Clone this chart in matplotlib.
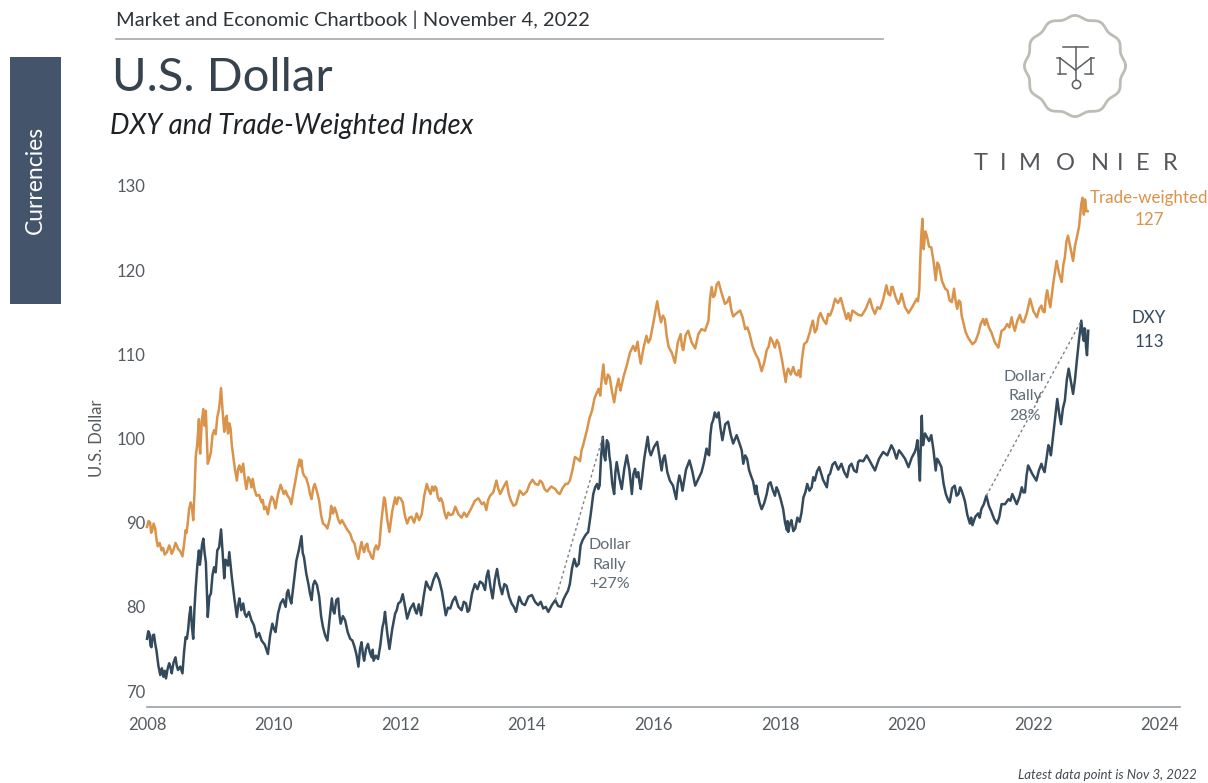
import numpy as np
import matplotlib
matplotlib.use("Agg")
import matplotlib.pyplot as plt
from matplotlib.patches import Rectangle

plt.rcParams['font.family'] = ['Lato', 'DejaVu Sans']

ORANGE = '#D9934A'
NAVY = '#33495C'
GREY = '#5F6B76'

# values
tw_dates = [2008.00, 2008.025, 2008.05, 2008.065, 2008.08, 2008.105, 2008.13, 2008.15, 2008.17, 2008.20,
            2008.23, 2008.255, 2008.28, 2008.315, 2008.35, 2008.37, 2008.39, 2008.42, 2008.45, 2008.47,
            2008.49, 2008.525, 2008.56, 2008.585, 2008.61, 2008.625, 2008.64, 2008.665, 2008.69, 2008.71,
            2008.73, 2008.75, 2008.77, 2008.795, 2008.82, 2008.83, 2008.84, 2008.865, 2008.89, 2008.91,
            2008.93, 2008.945, 2008.96, 2008.985, 2009.01, 2009.035, 2009.06, 2009.085, 2009.11, 2009.14,
            2009.17, 2009.195, 2009.22, 2009.24, 2009.26, 2009.27, 2009.28, 2009.30, 2009.32, 2009.34,
            2009.36, 2009.39, 2009.42, 2009.44, 2009.46, 2009.49, 2009.52, 2009.545, 2009.57, 2009.60,
            2009.63, 2009.65, 2009.67, 2009.70, 2009.73, 2009.77, 2009.81, 2009.83, 2009.85, 2009.88,
            2009.91, 2009.94, 2009.97, 2010.00, 2010.03, 2010.07, 2010.11, 2010.135, 2010.16, 2010.19,
            2010.22, 2010.25, 2010.28, 2010.315, 2010.35, 2010.38, 2010.41, 2010.425, 2010.44, 2010.46,
            2010.48, 2010.515, 2010.55, 2010.575, 2010.60, 2010.625, 2010.65, 2010.685, 2010.72, 2010.75,
            2010.78, 2010.815, 2010.85, 2010.89, 2010.91, 2010.925, 2010.94, 2010.965, 2010.99, 2011.02,
            2011.05, 2011.08, 2011.11, 2011.16, 2011.21, 2011.245, 2011.28, 2011.31, 2011.34, 2011.365,
            2011.39, 2011.41, 2011.43, 2011.455, 2011.48, 2011.50, 2011.52, 2011.545, 2011.57, 2011.595,
            2011.62, 2011.645, 2011.67, 2011.70, 2011.73, 2011.745, 2011.76, 2011.795, 2011.83, 2011.875,
            2011.92, 2011.945, 2011.97, 2012.005, 2012.04, 2012.075, 2012.11, 2012.145, 2012.18, 2012.22,
            2012.26, 2012.30, 2012.34, 2012.38, 2012.42, 2012.45, 2012.48, 2012.505, 2012.53, 2012.55,
            2012.57, 2012.595, 2012.62, 2012.645, 2012.67, 2012.70, 2012.73, 2012.76, 2012.79, 2012.83,
            2012.87, 2012.92, 2012.97, 2013.01, 2013.05, 2013.115, 2013.18, 2013.235, 2013.29, 2013.325,
            2013.36, 2013.39, 2013.42, 2013.47, 2013.52, 2013.55, 2013.58, 2013.63, 2013.68, 2013.715,
            2013.75, 2013.79, 2013.83, 2013.86, 2013.89, 2013.945, 2014.00, 2014.045, 2014.09, 2014.135,
            2014.18, 2014.21, 2014.24, 2014.28, 2014.32, 2014.385, 2014.45, 2014.485, 2014.52, 2014.565,
            2014.61, 2014.645, 2014.68, 2014.72, 2014.76, 2014.80, 2014.84, 2014.865, 2014.89, 2014.92,
            2014.95, 2014.99, 2015.03, 2015.07, 2015.11, 2015.135, 2015.16, 2015.185, 2015.21, 2015.23,
            2015.25, 2015.28, 2015.31, 2015.345, 2015.38, 2015.415, 2015.45, 2015.465, 2015.48, 2015.53,
            2015.58, 2015.63, 2015.68, 2015.715, 2015.75, 2015.775, 2015.80, 2015.845, 2015.89, 2015.92,
            2015.95, 2016.005, 2016.06, 2016.09, 2016.12, 2016.15, 2016.18, 2016.21, 2016.24, 2016.29,
            2016.34, 2016.385, 2016.43, 2016.45, 2016.47, 2016.51, 2016.55, 2016.605, 2016.66, 2016.71,
            2016.76, 2016.815, 2016.87, 2016.895, 2016.92, 2016.945, 2016.97, 2017.00, 2017.03, 2017.08,
            2017.13, 2017.165, 2017.20, 2017.23, 2017.26, 2017.315, 2017.37, 2017.41, 2017.45, 2017.485,
            2017.52, 2017.565, 2017.61, 2017.66, 2017.71, 2017.75, 2017.79, 2017.82, 2017.85, 2017.885,
            2017.92, 2017.95, 2017.98, 2018.035, 2018.09, 2018.11, 2018.13, 2018.17, 2018.21, 2018.24,
            2018.27, 2018.295, 2018.32, 2018.35, 2018.38, 2018.425, 2018.47, 2018.495, 2018.52, 2018.55,
            2018.58, 2018.61, 2018.64, 2018.685, 2018.73, 2018.76, 2018.79, 2018.83, 2018.87, 2018.915,
            2018.96, 2019.005, 2019.05, 2019.08, 2019.11, 2019.145, 2019.18, 2019.235, 2019.29, 2019.355,
            2019.42, 2019.46, 2019.50, 2019.54, 2019.58, 2019.63, 2019.68, 2019.71, 2019.74, 2019.76,
            2019.78, 2019.825, 2019.87, 2019.895, 2019.92, 2019.975, 2020.03, 2020.095, 2020.16, 2020.18,
            2020.20, 2020.215, 2020.23, 2020.24, 2020.25, 2020.26, 2020.27, 2020.295, 2020.32, 2020.355,
            2020.39, 2020.425, 2020.46, 2020.485, 2020.51, 2020.56, 2020.61, 2020.645, 2020.68, 2020.715,
            2020.75, 2020.775, 2020.80, 2020.825, 2020.85, 2020.87, 2020.89, 2020.93, 2020.97, 2021.005,
            2021.04, 2021.085, 2021.13, 2021.17, 2021.21, 2021.235, 2021.26, 2021.30, 2021.34, 2021.395,
            2021.45, 2021.475, 2021.50, 2021.545, 2021.59, 2021.625, 2021.66, 2021.685, 2021.71, 2021.75,
            2021.79, 2021.82, 2021.85, 2021.90, 2021.95, 2022.005, 2022.06, 2022.095, 2022.13, 2022.155,
            2022.18, 2022.20, 2022.22, 2022.245, 2022.27, 2022.32, 2022.37, 2022.41, 2022.45, 2022.475,
            2022.50, 2022.525, 2022.55, 2022.59, 2022.63, 2022.66, 2022.69, 2022.725, 2022.76, 2022.78,
            2022.80, 2022.82, 2022.84, 2022.86]
tw_values = [89.5, 90.2, 90.0, 88.8, 89.0, 89.9, 89.3, 88.0, 87.2, 87.6,
             86.7, 87.0, 86.2, 86.5, 87.3, 86.9, 86.3, 86.8, 87.6, 87.3,
             86.9, 86.6, 86.0, 87.4, 89.1, 88.8, 89.7, 91.6, 92.4, 91.8,
             90.3, 93.5, 97.8, 99.5, 102.3, 99.0, 98.2, 102.0, 103.5, 101.5,
             103.3, 100.0, 97.0, 97.6, 98.4, 100.4, 101.0, 100.5, 102.5, 103.6,
             106.0, 103.2, 100.8, 102.4, 102.7, 101.2, 100.6, 101.8, 101.2, 99.2,
             98.0, 96.3, 95.0, 96.4, 96.8, 96.0, 97.0, 95.2, 94.0, 95.4,
             95.0, 94.2, 95.2, 93.9, 93.2, 93.3, 92.4, 92.7, 91.6, 91.9,
             91.0, 92.3, 93.1, 92.7, 91.7, 93.4, 94.5, 94.0, 93.4, 93.8,
             93.2, 92.9, 92.2, 93.8, 95.2, 96.6, 97.5, 96.7, 97.4, 96.0,
             95.6, 95.3, 94.4, 93.4, 92.8, 94.1, 94.6, 93.7, 92.6, 90.9,
             89.9, 89.7, 89.3, 90.6, 92.0, 91.2, 91.1, 91.8, 91.3, 90.4,
             89.9, 90.3, 89.9, 89.2, 88.7, 87.9, 87.5, 86.3, 85.7, 86.9,
             87.7, 86.9, 86.5, 87.3, 87.5, 86.6, 86.5, 85.9, 85.7, 86.9,
             87.3, 86.8, 87.3, 90.0, 92.0, 93.0, 92.8, 90.4, 88.9, 91.4,
             93.0, 92.2, 93.0, 92.9, 92.4, 90.8, 89.9, 90.6, 90.7, 90.0,
             91.1, 90.3, 91.0, 93.2, 94.6, 93.9, 93.4, 94.3, 93.8, 94.3,
             94.1, 93.0, 92.6, 92.9, 92.4, 91.2, 90.5, 91.2, 90.9, 91.0,
             91.9, 91.0, 90.6, 91.2, 90.7, 91.6, 92.6, 92.9, 92.2, 92.4,
             91.5, 92.7, 93.2, 93.6, 95.0, 94.0, 93.4, 94.2, 94.9, 93.4,
             92.6, 92.0, 92.2, 93.0, 93.8, 93.3, 93.7, 94.6, 95.1, 94.6,
             94.5, 95.0, 94.8, 94.0, 93.7, 94.3, 94.0, 93.6, 93.4, 94.1,
             94.6, 94.6, 95.0, 96.2, 97.8, 97.6, 97.3, 98.6, 99.2, 100.1,
             101.0, 102.4, 103.3, 104.8, 105.5, 105.9, 105.1, 107.2, 108.8, 107.0,
             106.5, 107.6, 107.3, 105.6, 104.3, 106.0, 107.1, 106.2, 105.7, 107.4,
             108.7, 110.2, 111.0, 110.4, 111.5, 110.0, 108.9, 110.8, 112.2, 111.4,
             111.8, 114.0, 116.3, 114.9, 113.8, 114.6, 114.2, 112.2, 110.9, 110.2,
             109.0, 111.4, 112.4, 111.0, 110.5, 112.3, 112.8, 111.4, 110.7, 112.4,
             113.0, 112.8, 114.0, 116.6, 118.0, 116.8, 117.0, 118.3, 118.6, 117.2,
             116.0, 116.2, 116.8, 115.3, 114.5, 114.9, 115.2, 114.4, 113.0, 113.2,
             112.4, 111.0, 110.1, 109.4, 108.0, 109.0, 110.5, 110.9, 112.0, 111.5,
             110.8, 111.7, 111.3, 109.2, 106.7, 107.9, 108.3, 107.6, 108.5, 107.7,
             107.5, 108.1, 107.3, 109.6, 111.2, 111.5, 112.6, 113.4, 114.0, 112.6,
             113.0, 114.4, 114.9, 114.1, 113.6, 114.8, 114.6, 115.4, 116.6, 116.1,
             116.7, 115.4, 114.2, 114.9, 114.0, 115.2, 115.0, 114.7, 114.6, 115.4,
             116.6, 115.5, 114.8, 115.6, 115.4, 116.5, 118.2, 117.2, 117.0, 118.0,
             118.0, 116.8, 116.0, 116.4, 117.2, 115.6, 114.9, 115.7, 116.6, 116.3,
             117.6, 121.0, 123.9, 125.0, 126.1, 123.4, 122.5, 124.6, 124.1, 122.8,
             122.7, 121.1, 118.8, 120.9, 120.6, 118.7, 117.8, 117.6, 116.4, 116.2,
             117.8, 116.3, 115.4, 116.4, 116.2, 114.6, 114.0, 112.7, 112.0, 111.6,
             111.2, 111.5, 112.4, 113.6, 114.2, 113.5, 114.2, 113.2, 112.6, 111.4,
             110.8, 111.8, 112.8, 113.0, 113.6, 113.2, 114.4, 113.4, 112.8, 114.0,
             114.7, 113.9, 113.8, 114.9, 116.6, 115.1, 114.4, 115.4, 115.8, 115.1,
             115.0, 116.8, 117.6, 116.5, 115.6, 118.6, 121.1, 119.6, 118.6, 120.6,
             121.5, 123.4, 124.1, 122.6, 121.1, 122.9, 123.9, 125.2, 127.9, 128.6,
             126.6, 128.4, 127.0, 127.0]

dxy_dates = [2008.00, 2008.02, 2008.04, 2008.055, 2008.07, 2008.09, 2008.11, 2008.13, 2008.15, 2008.18,
             2008.21, 2008.235, 2008.26, 2008.28, 2008.30, 2008.325, 2008.35, 2008.37, 2008.39, 2008.42,
             2008.45, 2008.47, 2008.49, 2008.525, 2008.56, 2008.585, 2008.61, 2008.63, 2008.65, 2008.67,
             2008.69, 2008.71, 2008.73, 2008.75, 2008.77, 2008.795, 2008.82, 2008.835, 2008.85, 2008.87,
             2008.89, 2008.91, 2008.93, 2008.945, 2008.96, 2008.985, 2009.01, 2009.035, 2009.06, 2009.085,
             2009.11, 2009.14, 2009.17, 2009.195, 2009.22, 2009.24, 2009.26, 2009.28, 2009.30, 2009.32,
             2009.34, 2009.38, 2009.42, 2009.44, 2009.46, 2009.49, 2009.52, 2009.545, 2009.57, 2009.61,
             2009.65, 2009.69, 2009.73, 2009.77, 2009.81, 2009.86, 2009.91, 2009.945, 2009.98, 2010.005,
             2010.03, 2010.07, 2010.11, 2010.15, 2010.19, 2010.21, 2010.23, 2010.255, 2010.28, 2010.32,
             2010.36, 2010.40, 2010.44, 2010.46, 2010.48, 2010.515, 2010.55, 2010.575, 2010.60, 2010.625,
             2010.65, 2010.685, 2010.72, 2010.75, 2010.78, 2010.815, 2010.85, 2010.885, 2010.92, 2010.94,
             2010.96, 2010.99, 2011.02, 2011.04, 2011.06, 2011.095, 2011.13, 2011.17, 2011.21, 2011.245,
             2011.28, 2011.31, 2011.34, 2011.365, 2011.39, 2011.41, 2011.43, 2011.46, 2011.49, 2011.52,
             2011.55, 2011.565, 2011.58, 2011.615, 2011.65, 2011.685, 2011.72, 2011.74, 2011.76, 2011.795,
             2011.83, 2011.875, 2011.92, 2011.945, 2011.97, 2012.005, 2012.04, 2012.075, 2012.11, 2012.16,
             2012.21, 2012.235, 2012.26, 2012.295, 2012.33, 2012.37, 2012.41, 2012.445, 2012.48, 2012.525,
             2012.57, 2012.615, 2012.66, 2012.69, 2012.72, 2012.755, 2012.79, 2012.83, 2012.87, 2012.92,
             2012.97, 2013.005, 2013.04, 2013.065, 2013.09, 2013.135, 2013.18, 2013.22, 2013.26, 2013.30,
             2013.34, 2013.365, 2013.39, 2013.425, 2013.46, 2013.495, 2013.53, 2013.57, 2013.61, 2013.645,
             2013.68, 2013.72, 2013.76, 2013.795, 2013.83, 2013.855, 2013.88, 2013.925, 2013.97, 2014.025,
             2014.08, 2014.13, 2014.18, 2014.22, 2014.26, 2014.30, 2014.34, 2014.395, 2014.45, 2014.495,
             2014.54, 2014.58, 2014.62, 2014.65, 2014.68, 2014.715, 2014.75, 2014.785, 2014.82, 2014.85,
             2014.88, 2014.925, 2014.97, 2015.01, 2015.05, 2015.08, 2015.11, 2015.13, 2015.15, 2015.175,
             2015.20, 2015.22, 2015.24, 2015.265, 2015.29, 2015.305, 2015.32, 2015.35, 2015.38, 2015.40,
             2015.42, 2015.46, 2015.50, 2015.54, 2015.58, 2015.62, 2015.66, 2015.685, 2015.71, 2015.735,
             2015.76, 2015.78, 2015.80, 2015.855, 2015.91, 2015.935, 2015.96, 2016.01, 2016.06, 2016.095,
             2016.13, 2016.155, 2016.18, 2016.22, 2016.26, 2016.31, 2016.36, 2016.385, 2016.41, 2016.435,
             2016.46, 2016.515, 2016.57, 2016.615, 2016.66, 2016.71, 2016.76, 2016.80, 2016.84, 2016.86,
             2016.88, 2016.90, 2016.92, 2016.945, 2016.97, 2017.00, 2017.03, 2017.06, 2017.09, 2017.135,
             2017.18, 2017.22, 2017.26, 2017.315, 2017.37, 2017.395, 2017.42, 2017.45, 2017.48, 2017.51,
             2017.54, 2017.575, 2017.61, 2017.625, 2017.64, 2017.675, 2017.71, 2017.75, 2017.79, 2017.82,
             2017.85, 2017.885, 2017.92, 2017.945, 2017.97, 2018.01, 2018.05, 2018.08, 2018.11, 2018.12,
             2018.13, 2018.155, 2018.18, 2018.21, 2018.24, 2018.275, 2018.31, 2018.34, 2018.37, 2018.40,
             2018.43, 2018.465, 2018.50, 2018.525, 2018.55, 2018.585, 2018.62, 2018.68, 2018.74, 2018.765,
             2018.79, 2018.83, 2018.87, 2018.92, 2018.97, 2019.015, 2019.06, 2019.095, 2019.13, 2019.17,
             2019.21, 2019.235, 2019.26, 2019.315, 2019.37, 2019.435, 2019.50, 2019.565, 2019.63, 2019.695,
             2019.76, 2019.80, 2019.84, 2019.88, 2019.92, 2019.975, 2020.03, 2020.08, 2020.13, 2020.15,
             2020.17, 2020.19, 2020.21, 2020.225, 2020.24, 2020.25, 2020.26, 2020.29, 2020.32, 2020.355,
             2020.39, 2020.425, 2020.46, 2020.48, 2020.50, 2020.525, 2020.55, 2020.585, 2020.62, 2020.65,
             2020.68, 2020.72, 2020.76, 2020.79, 2020.82, 2020.845, 2020.87, 2020.895, 2020.92, 2020.96,
             2021.00, 2021.02, 2021.04, 2021.085, 2021.13, 2021.155, 2021.18, 2021.22, 2021.26, 2021.30,
             2021.34, 2021.385, 2021.43, 2021.465, 2021.50, 2021.555, 2021.61, 2021.64, 2021.67, 2021.705,
             2021.74, 2021.78, 2021.82, 2021.845, 2021.87, 2021.895, 2021.92, 2021.985, 2022.05, 2022.09,
             2022.13, 2022.155, 2022.18, 2022.21, 2022.24, 2022.26, 2022.28, 2022.33, 2022.38, 2022.41,
             2022.44, 2022.47, 2022.50, 2022.53, 2022.56, 2022.595, 2022.63, 2022.66, 2022.69, 2022.725,
             2022.76, 2022.78, 2022.80, 2022.81, 2022.82, 2022.835, 2022.85, 2022.87]
dxy_values = [76.2, 77.1, 76.8, 75.4, 75.2, 76.6, 76.7, 75.6, 74.8, 73.0,
              71.9, 72.7, 71.7, 72.4, 71.5, 72.6, 73.3, 72.9, 72.1, 73.4,
              74.0, 73.0, 72.5, 72.9, 72.1, 74.6, 76.4, 76.2, 77.3, 79.0,
              80.0, 77.6, 76.2, 79.8, 82.3, 84.9, 86.7, 85.0, 85.9, 87.4,
              88.1, 86.4, 85.3, 81.9, 78.8, 81.2, 81.6, 83.8, 84.7, 84.1,
              86.7, 87.1, 89.2, 86.4, 83.4, 85.6, 85.3, 84.9, 86.5, 85.0,
              83.5, 81.0, 78.8, 80.2, 81.0, 79.6, 80.4, 79.2, 78.8, 79.4,
              78.4, 77.8, 76.4, 76.9, 76.0, 75.5, 74.4, 76.6, 78.0, 77.4,
              77.0, 79.2, 80.4, 80.9, 80.0, 81.6, 82.0, 81.0, 80.4, 83.0,
              85.5, 86.8, 88.4, 86.4, 85.9, 84.0, 82.7, 81.6, 80.8, 82.6,
              83.1, 82.6, 81.2, 78.9, 77.6, 76.6, 76.0, 78.6, 81.0, 79.6,
              79.2, 80.8, 81.0, 79.0, 78.0, 78.9, 78.4, 77.0, 76.2, 76.0,
              75.2, 74.3, 72.9, 75.0, 75.8, 74.4, 73.6, 75.0, 75.6, 74.6,
              74.0, 74.9, 73.6, 74.2, 73.8, 75.4, 77.6, 78.2, 79.4, 76.9,
              75.0, 77.4, 79.2, 79.6, 80.4, 80.6, 81.5, 80.1, 78.6, 79.8,
              80.4, 79.6, 79.2, 80.3, 79.0, 81.2, 83.0, 82.4, 82.0, 83.2,
              84.0, 83.2, 81.8, 80.4, 79.0, 79.9, 79.8, 80.7, 81.2, 80.0,
              79.6, 80.6, 80.4, 79.4, 79.6, 81.6, 82.7, 82.1, 83.0, 82.8,
              82.0, 83.6, 84.3, 82.4, 81.0, 83.2, 84.5, 82.6, 81.5, 82.7,
              82.5, 81.2, 80.4, 80.0, 79.4, 80.3, 81.2, 80.4, 80.2, 81.2,
              81.4, 80.6, 80.2, 80.6, 79.8, 80.0, 79.4, 80.2, 80.8, 80.1,
              80.0, 80.9, 81.5, 81.9, 82.7, 84.6, 85.7, 84.8, 85.1, 87.3,
              87.9, 88.5, 88.9, 91.0, 93.4, 94.2, 94.6, 94.0, 94.4, 98.0,
              100.2, 98.0, 97.4, 99.8, 99.4, 97.9, 97.2, 94.6, 93.4, 96.0,
              97.2, 95.4, 94.0, 96.4, 98.0, 96.3, 93.4, 95.8, 96.4, 95.4,
              96.0, 94.8, 94.0, 97.6, 100.2, 98.6, 98.0, 99.0, 99.6, 97.9,
              96.2, 97.6, 98.0, 96.0, 95.0, 94.4, 92.8, 94.6, 95.6, 94.9,
              93.8, 96.3, 97.4, 96.1, 94.4, 95.2, 96.0, 97.2, 98.8, 98.2,
              98.0, 100.4, 101.7, 102.2, 103.1, 102.5, 103.1, 101.2, 99.8, 101.7,
              102.0, 100.5, 99.4, 100.4, 99.2, 98.6, 97.0, 98.0, 97.6, 96.3,
              95.6, 94.9, 93.4, 94.4, 93.6, 92.4, 91.6, 92.3, 93.4, 94.6,
              94.8, 93.9, 93.2, 94.2, 93.8, 92.8, 91.6, 90.0, 89.1, 90.2,
              88.9, 89.8, 90.3, 89.0, 89.3, 90.6, 90.1, 91.2, 93.0, 93.6,
              94.6, 93.8, 94.2, 95.4, 95.0, 96.1, 96.6, 95.1, 94.2, 95.6,
              95.8, 96.9, 97.2, 96.3, 97.0, 96.0, 95.4, 96.7, 97.0, 96.2,
              96.0, 97.2, 97.4, 97.3, 98.0, 97.1, 96.2, 97.6, 98.4, 98.0,
              99.2, 98.6, 97.6, 98.6, 98.2, 97.6, 96.6, 97.7, 98.4, 98.9,
              99.8, 97.8, 95.0, 99.4, 102.7, 100.2, 99.2, 100.6, 100.2, 99.7,
              100.4, 98.6, 96.2, 97.6, 97.4, 97.0, 96.6, 94.6, 93.4, 92.8,
              92.4, 94.1, 94.4, 93.2, 93.4, 94.2, 93.8, 93.2, 92.6, 90.9,
              89.9, 90.6, 89.7, 90.7, 91.1, 90.6, 91.6, 92.2, 93.2, 92.0,
              91.3, 90.4, 89.9, 90.7, 92.2, 92.2, 92.8, 92.6, 93.4, 92.8,
              92.2, 93.0, 94.2, 93.6, 93.6, 95.6, 96.8, 95.8, 95.0, 96.2,
              97.0, 96.4, 96.0, 97.6, 99.2, 98.8, 98.0, 101.4, 104.7, 103.0,
              101.7, 103.6, 104.5, 106.9, 108.3, 106.8, 105.3, 107.0, 109.3, 111.8,
              114.0, 112.4, 111.6, 113.1, 113.0, 110.9, 109.9, 112.8]

rally1_x = [2014.45, 2015.20]
rally1_y = [80.8, 100.2]
rally2_x = [2021.26, 2022.76]
rally2_y = [93.2, 114.0]

year_ticks = [2008, 2010, 2012, 2014, 2016, 2018, 2020, 2022, 2024]
value_ticks = [70, 80, 90, 100, 110, 120, 130]

W, H = 1208, 783


def px_x(x):
    return x / W


def px_y(y):
    return 1 - y / H


fig = plt.figure(figsize=(12.08, 7.83), dpi=100)

# chart area, axis line sits at y=707 in the picture
ax = fig.add_axes([px_x(147), px_y(707), (1180 - 147) / W, (707 - 186) / H])
ax.set_xlim(2008, 2008 + (1180 - 147) / 63.3)
ax.set_ylim(70 - 16 / 8.42, 130)
ax.patch.set_alpha(0)
for s in ['top', 'right', 'left']:
    ax.spines[s].set_visible(False)
ax.spines['bottom'].set_color('#9A9FA5')
ax.spines['bottom'].set_linewidth(1.2)

ax.plot(tw_dates, tw_values, color=ORANGE, lw=1.8, clip_on=False)
ax.plot(dxy_dates, dxy_values, color=NAVY, lw=1.8, clip_on=False)
ax.plot(rally1_x, rally1_y, color='#7A828A', lw=1, ls=(0, (2, 2)))
ax.plot(rally2_x, rally2_y, color='#7A828A', lw=1, ls=(0, (2, 2)))

ax.set_xticks(year_ticks)
ax.set_yticks(value_ticks)
ax.tick_params(axis='both', length=0, labelsize=12, labelcolor='#555B61')
ax.tick_params(axis='x', pad=7)
ax.tick_params(axis='y', pad=1)
ax.set_ylabel('U.S. Dollar', fontsize=12, color='#555B61')
ax.yaxis.set_label_coords((105 - 147) / (1180 - 147), (707 - 438) / (707 - 186))

ax.text(2015.31, 85.0, 'Dollar\nRally\n+27%', color=GREY, fontsize=11.5, ha='center', va='center', linespacing=1.5)
ax.text(2021.87, 105.0, 'Dollar\nRally\n28%', color=GREY, fontsize=11.5, ha='center', va='center', linespacing=1.5)
ax.text(2023.83, 127.3, 'Trade-weighted\n127', color=ORANGE, fontsize=12.2, ha='center', va='center', linespacing=1.45)
ax.text(2023.83, 112.9, 'DXY\n113', color=NAVY, fontsize=12.2, ha='center', va='center', linespacing=1.55)

# page furniture
fig.add_artist(Rectangle((px_x(10), px_y(304)), 51 / W, 247 / H, transform=fig.transFigure, color='#44546A', lw=0))
fig.text(px_x(35), px_y(180), 'Currencies', color='white', fontsize=16.5, rotation=90, ha='center', va='center')
fig.text(px_x(116), px_y(20), 'Market and Economic Chartbook | November 4, 2022', fontsize=14.5, color='#2E3338', va='center')
fig.add_artist(plt.Line2D([px_x(116), px_x(883)], [px_y(39), px_y(39)], color='#A4A7AA', lw=1.2))
fig.text(px_x(112), px_y(78), 'U.S. Dollar', fontsize=34, color='#36434E', va='center')
fig.text(px_x(110), px_y(126), 'DXY and Trade-Weighted Index', fontsize=19.8, color='#1F2225', va='center', style='italic')
fig.text(px_x(1197), px_y(775), 'Latest data point is Nov 3, 2022', fontsize=9.5, color='#444A50', ha='right', va='center', style='italic')

# logo
theta = np.linspace(0, 2 * np.pi, 400)
rad = 49 + 1.6 * np.cos(12 * theta)
fig.add_artist(plt.Line2D(px_x(1075 + rad * np.cos(theta)), px_y(66 + rad * np.sin(theta)), color='#BDBDB5', lw=2))
for xs, ys in [([1063, 1088], [47, 47]), ([1075.5, 1075.5], [47, 80]), ([1060, 1060], [58, 74]),
               ([1091, 1091], [58, 74]), ([1060, 1075.5], [58, 70]), ([1091, 1075.5], [58, 70]),
               ([1058, 1066], [74, 74]), ([1085, 1093], [74, 74]), ([1057, 1060], [58, 58]), ([1091, 1094], [58, 58])]:
    fig.add_artist(plt.Line2D(px_x(np.array(xs)), px_y(np.array(ys)), color='#5A5E62', lw=1.1))
fig.add_artist(plt.Line2D([px_x(1075.5)], [px_y(84)], marker='o', mfc='none', mec='#5A5E62', ms=6, mew=1.1))
letters = 'TIMONIER'
letter_x = [981, 1003, 1030, 1065, 1100, 1120, 1143, 1170]
for ch, lx in zip(letters, letter_x):
    fig.text(px_x(lx), px_y(163), ch, fontsize=17, color='#54585C', ha='center', va='center')

fig.savefig('out.png', dpi=100)
